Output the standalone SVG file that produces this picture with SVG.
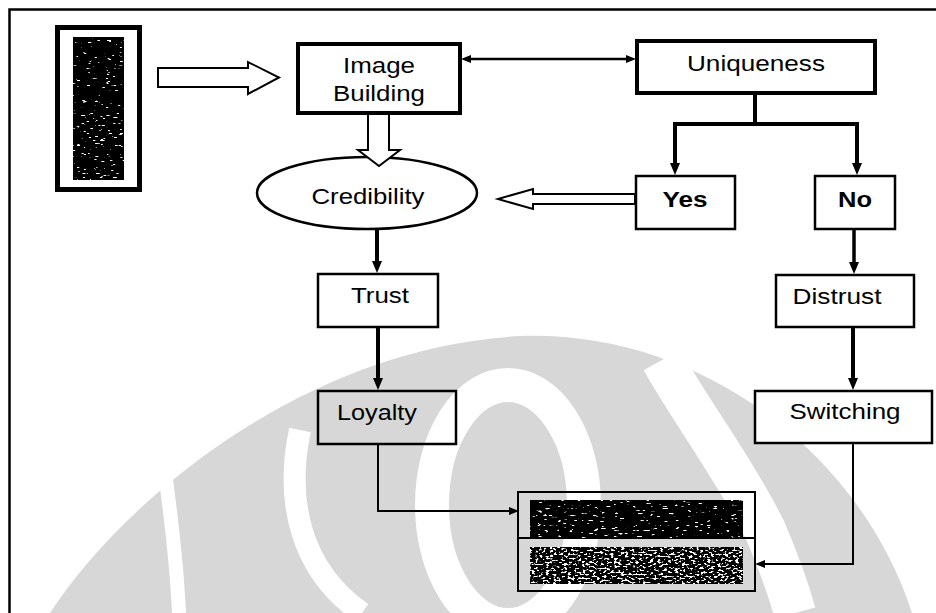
<svg xmlns="http://www.w3.org/2000/svg" width="936" height="613" viewBox="0 0 936 613">
  <style>
    .box { fill: none; stroke: #000; }
    .thick { stroke-width: 4; }
    .thin { stroke-width: 2.5; }
    .lbl { font-family: "Liberation Sans", Arial, sans-serif; font-size: 22px; fill: #000; text-anchor: middle; }
    .bold { font-weight: bold; }
    .con { fill: none; stroke: #000; }
    .hollow { fill: #fff; stroke: #000; stroke-width: 2; stroke-linejoin: miter; }
    .wm { fill: #d7d7d7; }
    .wmcut { fill: none; stroke: #fff; stroke-linecap: butt; }
  </style>
  <defs>
    <marker id="ah" viewBox="0 0 12 10" refX="6" refY="5" markerWidth="12" markerHeight="10" markerUnits="userSpaceOnUse" orient="auto-start-reverse">
      <path d="M0,0 L12,5 L0,10 z" fill="#000"/>
    </marker>
    <marker id="ahs" viewBox="0 0 10 8" refX="4" refY="4" markerWidth="10" markerHeight="8" markerUnits="userSpaceOnUse" orient="auto-start-reverse">
      <path d="M0,0 L10,4 L0,8 z" fill="#000"/>
    </marker>
    <!-- sparse white specks on a black field -->
    <filter id="specks" x="0" y="0" width="1" height="1" color-interpolation-filters="sRGB">
      <feTurbulence type="fractalNoise" baseFrequency="0.16 0.6" numOctaves="2" seed="7" result="n"/>
      <feColorMatrix in="n" type="matrix" values="0 0 0 0 1  0 0 0 0 1  0 0 0 0 1  16 0 0 0 -10.7" result="w"/>
      <feComposite in="w" in2="SourceAlpha" operator="in" result="wc"/>
      <feMerge><feMergeNode in="SourceGraphic"/><feMergeNode in="wc"/></feMerge>
    </filter>
    <!-- dense black/white grain -->
    <filter id="grain" x="0" y="0" width="1" height="1" color-interpolation-filters="sRGB">
      <feTurbulence type="fractalNoise" baseFrequency="0.28 0.5" numOctaves="2" seed="11" result="n"/>
      <feColorMatrix in="n" type="matrix" values="0 0 0 0 1  0 0 0 0 1  0 0 0 0 1  12 0 0 0 -6.5" result="w"/>
      <feComposite in="w" in2="SourceAlpha" operator="in" result="wc"/>
      <feMerge><feMergeNode in="SourceGraphic"/><feMergeNode in="wc"/></feMerge>
    </filter>
  </defs>

  <rect width="936" height="613" fill="#fff"/>

  <!-- background emblem -->
  <g id="emblem">
    <path class="wm" d="M50,613 C120,505 300,348 520,336 C700,330 860,452 912,613 Z"/>
    <path class="wmcut" stroke-width="14" d="M179,613 C177,570 172,525 166,480"/>
    <path class="wmcut" stroke-width="22" d="M300,430 C285,500 300,570 362,613"/>
    <ellipse class="wmcut" stroke-width="34" cx="508" cy="505" rx="76" ry="120"/>
    <path class="wmcut" stroke-width="42" d="M662,360 C690,410 735,470 765,530 C780,565 790,595 795,613"/>
  </g>

  <!-- frame -->
  <g id="frame" fill="none" stroke="#000" stroke-width="2.5">
    <path d="M9.5,613 V9.5 H936"/>
  </g>

  <!-- picture block -->
  <g id="picture">
    <rect x="57.5" y="27.5" width="82" height="162" fill="#fff" stroke="#000" stroke-width="5"/>
    <rect x="73" y="37" width="51" height="143" fill="#000" filter="url(#specks)"/>
  </g>

  <g id="image-building">
    <rect class="box thick" x="298" y="44" width="162" height="69" style="fill:#fff"/>
    <text class="lbl" x="379" y="73" textLength="72" lengthAdjust="spacingAndGlyphs">Image</text>
    <text class="lbl" x="379" y="101" textLength="92" lengthAdjust="spacingAndGlyphs">Building</text>
  </g>

  <g id="uniqueness">
    <rect class="box thick" x="637" y="41" width="238" height="52" style="fill:#fff"/>
    <text class="lbl" x="756" y="71" textLength="138" lengthAdjust="spacingAndGlyphs">Uniqueness</text>
  </g>

  <g id="credibility">
    <ellipse cx="367" cy="193" rx="110" ry="36" fill="#fff" stroke="#000" stroke-width="2.5"/>
    <text class="lbl" x="368" y="204" textLength="113" lengthAdjust="spacingAndGlyphs">Credibility</text>
  </g>

  <g id="yes">
    <rect class="box thin" x="636" y="176" width="99" height="53"/>
    <text class="lbl bold" x="685" y="207" textLength="45" lengthAdjust="spacingAndGlyphs">Yes</text>
  </g>

  <g id="no">
    <rect class="box thin" x="815" y="176" width="80" height="53"/>
    <text class="lbl bold" x="855" y="207" textLength="34" lengthAdjust="spacingAndGlyphs">No</text>
  </g>

  <g id="trust">
    <rect class="box thin" x="318" y="274" width="120" height="53"/>
    <text class="lbl" x="380" y="303" textLength="58" lengthAdjust="spacingAndGlyphs">Trust</text>
  </g>

  <g id="distrust">
    <rect class="box thin" x="776" y="275" width="138" height="52"/>
    <text class="lbl" x="837" y="304" textLength="89" lengthAdjust="spacingAndGlyphs">Distrust</text>
  </g>

  <g id="loyalty">
    <rect class="box thin" x="318" y="391" width="138" height="53"/>
    <text class="lbl" x="377" y="420" textLength="80" lengthAdjust="spacingAndGlyphs">Loyalty</text>
  </g>

  <g id="switching">
    <rect class="box thin" x="755" y="391" width="177" height="52" style="fill:#fff"/>
    <text class="lbl" x="845" y="419" textLength="111" lengthAdjust="spacingAndGlyphs">Switching</text>
  </g>

  <g id="outcome">
    <rect x="518" y="492" width="237" height="99" fill="none" stroke="#000" stroke-width="2"/>
    <line x1="518" y1="538" x2="755" y2="538" stroke="#000" stroke-width="2"/>
    <rect x="530" y="500" width="213" height="38" fill="#000" filter="url(#specks)"/>
    <rect x="530" y="547" width="213" height="37" fill="#000" filter="url(#grain)"/>
  </g>

  <g id="connectors">
    <!-- block arrows -->
    <polygon class="hollow" points="158,68 248,68 248,62 279,77.5 248,94 248,87 158,87"/>
    <polygon class="hollow" points="368,114 389,114 389,150 400,150 379,166 358,150 368,150"/>
    <polygon class="hollow" points="635,194 533,194 533,189 498,199 533,209 533,204 635,204"/>

    <!-- two-way link -->
    <line class="con" x1="467" y1="59" x2="630" y2="59" stroke-width="2.5" marker-start="url(#ahs)" marker-end="url(#ahs)"/>

    <!-- uniqueness split -->
    <path class="con" stroke-width="4" d="M755,93 V124"/>
    <path class="con" stroke-width="4" d="M673,124 H859"/>
    <path class="con" stroke-width="4" d="M675,124 V169" marker-end="url(#ah)"/>
    <path class="con" stroke-width="4" d="M857,124 V169" marker-end="url(#ah)"/>

    <!-- vertical chains -->
    <path class="con" stroke-width="4" d="M377,229 V267" marker-end="url(#ah)"/>
    <path class="con" stroke-width="4" d="M378,328 V384" marker-end="url(#ah)"/>
    <path class="con" stroke-width="3.5" d="M854,230 V268" marker-end="url(#ah)"/>
    <path class="con" stroke-width="4" d="M853,328 V384" marker-end="url(#ah)"/>

    <!-- into the outcome block -->
    <path class="con" stroke-width="2" d="M378,444 V511 H513" marker-end="url(#ahs)"/>
    <path class="con" stroke-width="2" d="M853,443 V564 H761" marker-end="url(#ahs)"/>
  </g>
</svg>
